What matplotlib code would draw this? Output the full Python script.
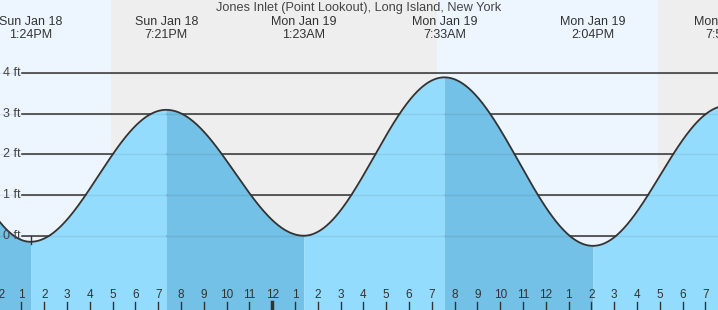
import numpy as np
import matplotlib
matplotlib.use('Agg')
import matplotlib.pyplot as plt

# -----------------------------
# Data (hours relative to midnight Mon Jan 19)
# -----------------------------
title = 'Jones Inlet (Point Lookout), Long Island, New York'

event_hours = [-16.8, -10.6, -4.65, 1.383, 7.55, 14.067, 19.93]
event_heights = [4.2, -0.15, 3.1, 0.0, 3.9, -0.25, 3.2]
event_labels = [None,
                'Sun Jan 18\n1:24PM', 'Sun Jan 18\n7:21PM',
                'Mon Jan 19\n1:23AM', 'Mon Jan 19\n7:33AM',
                'Mon Jan 19\n2:04PM', 'Mon Jan 19\n7:56PM']

# daylight periods (sunrise, sunset)
day_periods = [(-20.0, -7.07), (7.21, 16.93)]

hour_ticks = list(range(-12, 20))
hour_labels = [str((h % 12) or 12) for h in hour_ticks]

ft_levels = [0, 1, 2, 3, 4]

# -----------------------------
# Colors
# -----------------------------
c_day = '#edf6ff'
c_night = '#eeeeee'
c_rise = '#94dcfd'
c_fall = '#73c1e6'
c_line = '#333333'

# -----------------------------
# Figure
# -----------------------------
plt.rcParams['font.family'] = ['Liberation Sans', 'DejaVu Sans']
fig = plt.figure(figsize=(7.18, 3.10), dpi=100)
ax = fig.add_axes([0, 0, 1, 1])
x0, x1 = -11.94, 19.55
y0, y1 = -1.83, 5.805
ax.set_xlim(x0, x1)
ax.set_ylim(y0, y1)
ax.axis('off')

# sky background: night everywhere, day bands on top
ax.axvspan(x0, x1, color=c_night, zorder=0, lw=0)
for sr, ss in day_periods:
    ax.axvspan(sr, ss, color=c_day, zorder=0.5, lw=0)

# grid lines (dark above water)
for lv in ft_levels:
    ax.plot([-10.98, x1], [lv, lv], color=c_line, lw=1.1, zorder=1)
    ax.text(-11.82, lv, f'{lv} ft', fontsize=9, color='#444444',
            ha='left', va='center', zorder=5)

# tide curve: cosine shape between highs and lows
ts, hs = [], []
for i in range(len(event_hours) - 1):
    ta, tb = event_hours[i], event_hours[i + 1]
    ha, hb = event_heights[i], event_heights[i + 1]
    t = np.linspace(ta, tb, 200)
    h = ha + (hb - ha) * (1 - np.cos(np.pi * (t - ta) / (tb - ta))) / 2
    ax.fill_between(t, y0, h, color=c_rise if hb > ha else c_fall,
                    lw=0, zorder=2)
    ts.append(t)
    hs.append(h)
ts = np.concatenate(ts)
hs = np.concatenate(hs)
ax.plot(ts, hs, color=c_line, lw=1.3, zorder=4)

# faint grid lines under water
for lv in ft_levels:
    ax.plot([x0, x1], [lv, lv], color='black', alpha=0.07, lw=1, zorder=3)

# small mark under the first low
ax.plot([event_hours[1], event_hours[1]], [0, -0.2], color=c_line,
        lw=1, zorder=4)

# event labels along the top
for t, lab in zip(event_hours, event_labels):
    if lab:
        ax.text(t, 5.1, lab, fontsize=9, color='#333333', ha='center',
                va='center', linespacing=1.05, zorder=5)

ax.text((x0 + x1) / 2, 5.62, title, fontsize=9.2, color='#444444',
        ha='center', va='center', zorder=5)

# hour ticks along the bottom
for h, lab in zip(hour_ticks, hour_labels):
    ax.text(h, -1.47, lab, fontsize=8.5, color='#333333', ha='center',
            va='center', zorder=5)
    ax.plot([h, h], [-1.64, y0], color=c_line,
            lw=2.5 if h == 0 else 1, zorder=5)

plt.savefig('out.png', dpi=100)
plt.close()
